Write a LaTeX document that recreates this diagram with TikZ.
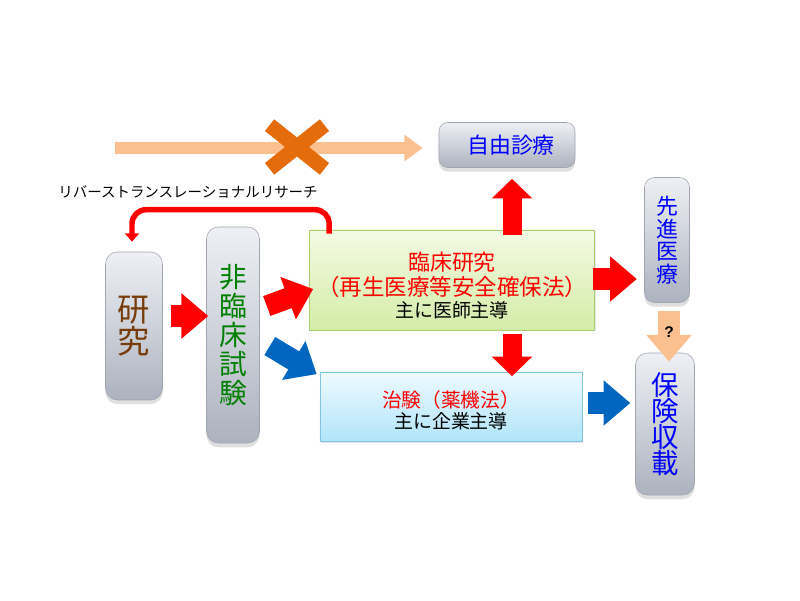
\documentclass[tikz,border=0pt]{standalone}
\usepackage{fontspec}
\usepackage{tikz}
\usetikzlibrary{positioning,calc,arrows.meta,shadows,shapes.misc}
\newfontfamily\jp{Noto Sans CJK JP}
\newfontfamily\lat{Liberation Sans}
\newcommand{\fs}[2]{\fontsize{#1}{#2}\selectfont}

\definecolor{boxtop}{RGB}{238,240,245}
\definecolor{boxbottom}{RGB}{172,178,190}
\definecolor{boxedge}{RGB}{160,165,175}
\definecolor{greentop}{RGB}{244,250,228}
\definecolor{greenbottom}{RGB}{212,236,168}
\definecolor{greenedge}{RGB}{170,205,115}
\definecolor{bluetop}{RGB}{238,250,255}
\definecolor{bluebottom}{RGB}{176,228,250}
\definecolor{blueedge}{RGB}{130,195,225}
\definecolor{arrred}{RGB}{255,0,0}
\definecolor{arrblue}{RGB}{0,102,192}
\definecolor{peach}{RGB}{250,192,144}
\definecolor{xorange}{RGB}{228,108,10}
\definecolor{brown}{RGB}{120,60,10}
\definecolor{dkgreen}{RGB}{0,128,0}
\definecolor{txtblue}{RGB}{0,0,255}

\tikzset{
  graybox/.style={draw=boxedge, rounded corners=0.22cm, top color=boxtop, bottom color=boxbottom,
    inner sep=0pt, align=center, drop shadow={shadow xshift=0pt, shadow yshift=-3pt, opacity=0.25}},
  greenbox/.style={draw=greenedge, top color=greentop, bottom color=greenbottom, inner sep=0pt, align=center,
    drop shadow={shadow xshift=1pt, shadow yshift=-1pt, opacity=0.2}},
  bluebox/.style={draw=blueedge, top color=bluetop, bottom color=bluebottom, inner sep=0pt, align=center,
    drop shadow={shadow xshift=1pt, shadow yshift=-1pt, opacity=0.2}},
  bigarrow/.style={line width=15pt, -{Triangle[width=31pt,length=19pt]}},
  midarrow/.style={line width=13.5pt, -{Triangle[width=28pt,length=14pt]}},
  thinarrow/.style={line width=9.2pt, -{Triangle[width=18pt,length=13pt]}},
}

\begin{document}
\begin{tikzpicture}[x=0.025cm, y=-0.025cm, font=\jp]
\useasboundingbox (0,0) rectangle (800,600);

% boxes
\node[graybox, minimum width=3.4cm, minimum height=1.125cm, text=txtblue, font=\jp\fs{15.6}{16}] (jiyu) at (507,145) {\hspace{0.2cm}自由診療};
\node[graybox, rounded corners=0.3cm, minimum width=1.425cm, minimum height=3.7cm, text=brown, font=\jp\fs{23}{23}] (kenkyu) at (134,326) {研\\究};
\node[graybox, rounded corners=0.3cm, minimum width=1.325cm, minimum height=5.4cm, text=dkgreen, font=\jp\fs{19.7}{20.5}] (hirinsho) at (233,335) {非\\臨\\床\\試\\験};
\node[greenbox, minimum width=7.125cm, minimum height=2.5cm] (rinsho) at (452,280)
  {\rule{0pt}{21pt}\color{arrred}\fs{15.6}{19}臨床研究\\[1.5pt]\color{arrred}\fs{16}{17}（再生医療等安全確保法）\\[1.5pt]\fs{13.5}{17}主に医師主導};
\node[bluebox, minimum width=6.55cm, minimum height=1.725cm] (chiken) at (451,407)
  {\rule{0pt}{16.5pt}\color{arrred}\fs{14}{15.6}治験（薬機法）\\[1pt]\fs{13.5}{15.6}主に企業主導};
\node[graybox, rounded corners=0.25cm, minimum width=1.125cm, minimum height=3.125cm, text=txtblue, font=\jp\fs{15.6}{16}] (senshin) at (667,240) {先\\進\\医\\療};
\node[graybox, rounded corners=0.3cm, minimum width=1.475cm, minimum height=3.55cm, text=txtblue, font=\jp\fs{19.5}{18.5}] (hoken) at (665,424) {保\\険\\収\\載};

% label
\node[font=\jp\fs{10.3}{12}] (rtlabel) at (188,192) {リバーストランスレーショナルリサーチ};

% top arrow with cross
\coordinate (start) at (115,148);
\draw[thinarrow, draw=peach] (start) -- ($(jiyu.west)+(-16,3)$);
\node[cross out, draw=xorange, line width=10.6pt, minimum width=1.0cm, minimum height=0.72cm, inner sep=0pt] (ban) at (297,147) {};

% reverse translational research
\draw[arrred, line width=3.9pt, rounded corners=0.35cm, -{Triangle[width=10pt,length=6pt]}]
  ($(rinsho.north west)+(20,4)$) -- ++(0,-24) -| ($(kenkyu.north)+(-2,-10)$);

% block arrows
\draw[bigarrow, draw=arrred] ($(kenkyu.east)+(8,-10)$) -- ($(hirinsho.west)+(2,-19)$);
\draw[bigarrow, draw=arrred] ($(hirinsho.east)+(7,-29)$) -- ($(rinsho.west)+(4,9)$);
\draw[bigarrow, draw=arrblue] ($(hirinsho.east)+(10,11)$) -- ($(chiken.north west)+(-3,2)$);
\draw[midarrow, draw=arrred] ($(rinsho.north)+(60,5)$) -- ($(jiyu.south)+(5,11)$);
\draw[midarrow, draw=arrred] ($(rinsho.south)+(60,4)$) -- ($(chiken.north)+(61,4)$);
\draw[bigarrow, draw=arrred] ($(rinsho.east)+(-2,-1)$) -- ($(rinsho.east)+(42,-1)$);
\draw[bigarrow, draw=arrblue] ($(chiken.east)+(6,-4)$) -- ($(chiken.east)+(48,-4)$);
\draw[bigarrow, draw=peach] ($(senshin.south)+(2,8)$) -- node[pos=0.42, font=\lat\bfseries\fs{11}{11}] (q) {?} ($(hoken.north)+(4,9)$);
\end{tikzpicture}
\end{document}
